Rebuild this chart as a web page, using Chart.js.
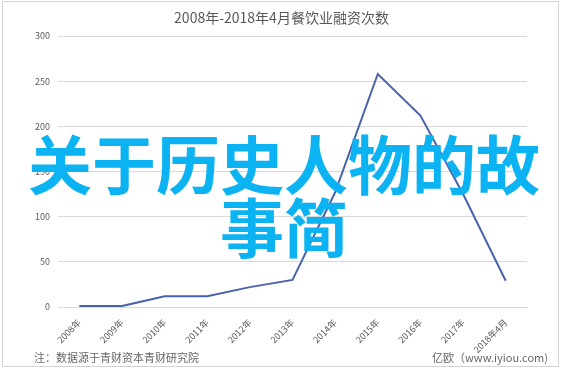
<!DOCTYPE html>
<html>
<head>
<meta charset="utf-8">
<script src="https://cdn.jsdelivr.net/npm/chart.js@4"></script>
<style>
  body { margin: 0; background: #fff; }
  #wrap { position: relative; width: 563px; height: 370px; overflow: hidden; font-family: "Noto Sans CJK SC", sans-serif; }
  #frame { position: absolute; left: 2px; top: 1px; width: 557px; height: 366px; border: 1px solid #d4d4d4; box-sizing: border-box; pointer-events: none; }
  #titulo { position: absolute; left: 0; top: 7px; width: 563px; text-align: center; font-size: 14px; line-height: 20px; color: #595959; white-space: nowrap; }
  #overlay { position: absolute; left: 24px; top: 130px; width: 520px; text-align: center; font-size: 64px; line-height: 63px; font-weight: bold; color: #0cb3f2; pointer-events: none; }
  .foot { position: absolute; top: 349px; font-size: 11px; color: #666; white-space: nowrap; }
</style>
</head>
<body>
<div id="wrap">
  <canvas id="myChart" width="563" height="370"></canvas>
  <div id="frame"></div>
  <div id="titulo"></div>
  <div id="overlay">关于历史人物的故事简</div>
  <div class="foot" style="left:34px;">注：数据源于青财资本青财研究院</div>
  <div class="foot" style="left:432px;">亿欧（www.iyiou.com)</div>
</div>
<script>
var titulo = '2008年-2018年4月餐饮业融资次数';
var anios = ['2008年', '2009年', '2010年', '2011年', '2012年', '2013年', '2014年', '2015年', '2016年', '2017年', '2018年4月'];
var financiaciones = [1, 1, 12, 12, 22, 30, 127, 258, 212, 125, 29];
var ticksY = [0, 50, 100, 150, 200, 250, 300];

document.getElementById('titulo').textContent = titulo;

var ctx = document.getElementById('myChart').getContext('2d');
var myChart = new Chart(ctx, {
    type: 'line',
    data: {
        labels: anios,
        datasets: [{
            data: financiaciones,
            borderColor: '#4a62ad',
            borderWidth: 2,
            pointRadius: 0,
            fill: false,
            tension: 0
        }]
    },
    options: {
        responsive: false,
        animation: false,
        layout: { padding: { top: 36, right: 36, left: 8, bottom: 0 } },
        plugins: {
            legend: { display: false },
            tooltip: { enabled: false },
            title: { display: false }
        },
        scales: {
            x: {
                offset: true,
                grid: { display: false },
                border: { color: '#d9d9d9' },
                ticks: {
                    color: '#595959',
                    font: { family: '"Noto Sans CJK SC"', size: 9 },
                    minRotation: 45,
                    maxRotation: 45,
                    autoSkip: false,
                    padding: 2
                },
                afterFit: function(s) { s.height = 63; }
            },
            y: {
                min: ticksY[0],
                max: ticksY[ticksY.length - 1],
                afterBuildTicks: function(s) { s.ticks = ticksY.map(v => ({ value: v })); },
                grid: { color: '#d9d9d9', drawTicks: false },
                border: { display: false },
                ticks: {
                    color: '#595959',
                    font: { family: '"Noto Sans CJK SC"', size: 9 },
                    padding: 8
                },
                afterFit: function(s) { s.width = 50; }
            }
        }
    }
});
</script>
</body>
</html>
